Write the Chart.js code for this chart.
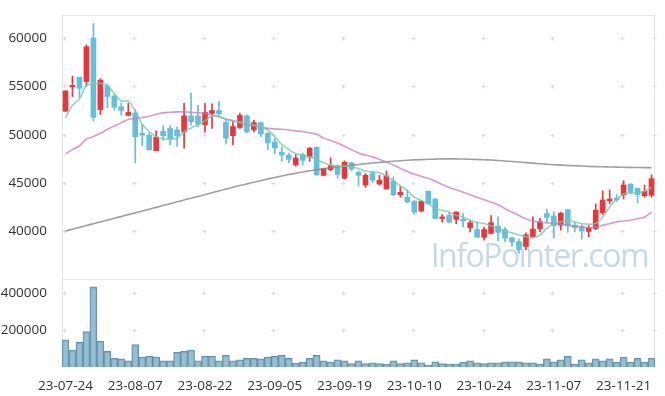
<!DOCTYPE html>
<html>
<head>
<meta charset="utf-8">
<script src="https://cdn.jsdelivr.net/npm/chart.js@4/dist/chart.umd.min.js"></script>
<style>
  html, body { margin: 0; padding: 0; background: #fff; }
  #wrap { width: 665px; height: 396px; position: relative; }
</style>
</head>
<body>
<div id="wrap"><canvas id="myChart"></canvas></div>
<script>
const dates = [
  '23-07-24','23-07-25','23-07-26','23-07-27','23-07-28','23-07-31',
  '23-08-01','23-08-02','23-08-03','23-08-04','23-08-07','23-08-08','23-08-09','23-08-10','23-08-11',
  '23-08-14','23-08-16','23-08-17','23-08-18','23-08-21','23-08-22','23-08-23','23-08-24','23-08-25',
  '23-08-28','23-08-29','23-08-30','23-08-31',
  '23-09-01','23-09-04','23-09-05','23-09-06','23-09-07','23-09-08','23-09-11','23-09-12','23-09-13',
  '23-09-14','23-09-15','23-09-18','23-09-19','23-09-20','23-09-21','23-09-22','23-09-25','23-09-26','23-09-27',
  '23-10-04','23-10-05','23-10-06','23-10-10','23-10-11','23-10-12','23-10-13','23-10-16','23-10-17',
  '23-10-18','23-10-19','23-10-20','23-10-23','23-10-24','23-10-25','23-10-26','23-10-27','23-10-30','23-10-31',
  '23-11-01','23-11-02','23-11-03','23-11-06','23-11-07','23-11-08','23-11-09','23-11-10','23-11-13',
  '23-11-14','23-11-15','23-11-16','23-11-17','23-11-20','23-11-21','23-11-22','23-11-23','23-11-24','23-11-27'
];

const open  = [52430,54950,55950,55500,60000,52600,55050,54000,52900,52000,
               52250,50150,49950,48350,50350,50650,50500,50300,51950,51950,
               51050,52200,52500,51300,49900,50750,51950,50500,51250,50150,
               49250,48200,47900,46900,47950,47700,48700,45800,46400,46750,
               45500,47100,46100,44800,46000,44900,44400,45200,43800,43550,
               43100,42100,44150,43350,41350,41650,41250,41250,40400,40200,
               39400,39800,40550,40200,39350,38950,38450,39450,40300,41850,
               41600,40650,42250,40650,40500,40000,40300,41950,43150,43450,
               43800,44900,44450,43700,43750];
const high  = [54550,56050,55950,59300,61500,55800,55250,54150,53300,53250,
               52600,51050,50200,50400,50950,50950,50800,53250,54300,53050,
               53250,53200,53450,51700,51350,52250,52050,51500,51300,50200,
               49650,48750,48100,47950,48100,48700,48750,46550,47600,46900,
               47300,47150,46250,46000,46250,45800,46250,45650,44650,44200,
               43200,43200,44200,43400,41750,41950,42050,41850,41150,41000,
               40450,41650,41500,40450,39400,39200,39850,41500,41350,42300,
               42000,42000,42300,40950,40700,40600,42850,44200,44300,43800,
               45250,44950,44500,44800,45850];
const low   = [52400,53950,53850,55000,51400,52100,52800,52550,52000,51950,
               47100,48850,48400,48350,49450,48950,48800,48600,51000,50800,
               50300,50650,52050,49050,48950,50650,50200,50300,49800,48450,
               48050,47250,47100,46750,46850,47250,45800,45750,46250,45500,
               45450,46250,44700,44550,45050,44800,44350,43700,43550,42950,
               41750,42050,42800,41300,40950,40900,40800,40500,39950,39350,
               39100,39750,39050,38950,38450,37750,38100,39400,39950,40990,
               39350,40150,39900,39950,39200,39450,40200,41750,42850,43100,
               43350,43850,42950,43550,43550];
const close = [54530,55100,54800,59100,51800,55650,53950,52850,52500,52300,
               49800,49950,48450,49750,49900,49600,49900,51950,51350,51100,
               52300,52500,52150,49650,50850,52000,50300,51250,50100,49150,
               48650,47900,47450,47600,47350,48600,45850,46500,46800,45900,
               47150,46450,45800,45800,45300,45300,45750,43800,44050,43050,
               42000,43100,42850,41350,41500,40950,42000,41100,40900,39400,
               40200,40900,39900,39300,38900,38100,39650,40250,41000,41450,
               40600,41900,40600,40400,40050,40400,42200,43250,43350,43250,
               44800,44050,43800,44150,45450];

const ma5  = [51750,53040,53720,55080,55250,55310,55080,54250,53480,53480,
              52450,51100,50320,49820,49580,49540,49640,50320,50700,51030,
              51440,51950,51900,51600,51400,51300,51170,51000,50830,50490,
              49800,49000,48460,48050,47850,47710,47440,47100,46860,46760,
              46760,46700,46490,46250,46150,46080,45740,45230,44720,44220,
              43540,43200,42860,42400,42180,42010,41670,41500,41160,40920,
              40820,40580,40310,40040,39870,39630,39460,39360,39630,40310,
              40820,40990,41160,40990,40820,40750,40820,41500,42520,43300,
              43870,43980,43980,44150,44550];
const ma20 = [48020,48460,48860,49540,49820,50150,50560,50900,51240,51580,
              51680,51780,51920,52120,52260,52320,52360,52360,52330,52260,
              52190,52020,51850,51600,51480,51240,51050,50900,50780,50660,
              50600,50560,50490,50400,50320,50200,50050,49650,49400,49140,
              48800,48450,48120,47900,47710,47440,47170,46850,46520,46200,
              45910,45700,45470,45200,44850,44550,44300,44050,43800,43540,
              43280,43030,42770,42350,42000,41650,41300,41060,40970,40890,
              40820,40750,40650,40550,40460,40380,40450,40650,40800,40990,
              41080,41160,41320,41500,42010];
const ma60 = [40040,40230,40420,40610,40800,40980,41170,41360,41550,41740,
              41920,42110,42300,42490,42680,42870,43060,43250,43440,43620,
              43810,44000,44190,44380,44560,44750,44920,45080,45250,45420,
              45580,45730,45880,46020,46150,46270,46380,46480,46580,46670,
              46760,46840,46920,47000,47070,47140,47200,47260,47310,47360,
              47400,47430,47460,47480,47500,47500,47500,47490,47470,47440,
              47410,47380,47330,47280,47230,47180,47120,47060,47000,46950,
              46900,46860,46820,46790,46760,46730,46700,46690,46670,46650,
              46630,46620,46610,46600,46590];

const volume = [147000,91000,133000,191000,433000,139000,84000,47000,44000,33000,
                121000,53000,58000,53000,33000,33000,79000,84000,91000,33000,
                58000,58000,33000,63000,33000,39000,47000,47000,44000,53000,
                58000,63000,47000,21000,26000,47000,63000,33000,26000,39000,
                33000,18000,33000,18000,23000,18000,16000,33000,18000,23000,
                39000,23000,11000,28000,18000,16000,16000,26000,33000,23000,
                18000,23000,23000,28000,28000,28000,23000,23000,16000,44000,
                28000,39000,58000,16000,39000,23000,44000,33000,44000,26000,
                53000,26000,47000,26000,47000];

const priceTicks = [40000, 45000, 50000, 55000, 60000];
const volumeTicks = [200000, 400000];

const UP = '#e8363b';
const DOWN = '#62c0da';
const candleColors = open.map((o, i) => close[i] >= o ? UP : DOWN);
const FONT = {family: "'Open Sans', sans-serif", size: 13.5};

const decor = {
  id: 'decor',
  beforeDatasetsDraw(chart) {
    const {ctx, chartArea: a, scales} = chart;
    const x = scales.x, y = scales.y, yv = scales.yv;
    ctx.save();
    // watermark
    ctx.font = "32px 'Open Sans', sans-serif";
    ctx.letterSpacing = '-1.5px';
    ctx.fillStyle = 'rgba(150,188,210,0.55)';
    ctx.textAlign = 'right';
    ctx.textBaseline = 'alphabetic';
    ctx.fillText('InfoPointer.com', a.right - 7, y.bottom - 12);
    ctx.letterSpacing = '0px';
    // panel frames
    ctx.strokeStyle = '#e6e6e6';
    ctx.lineWidth = 1;
    ctx.strokeRect(Math.round(a.left) + 0.5, Math.round(y.top) + 0.5, Math.round(a.right - a.left) - 1, Math.round(y.bottom - y.top));
    ctx.strokeRect(Math.round(a.left) + 0.5, Math.round(yv.top) + 0.5, Math.round(a.right - a.left) - 1, Math.round(yv.bottom - yv.top) - 1);
    // grid crosses
    const xs = [];
    for (let i = 0; i < dates.length; i += 10) xs.push(x.getPixelForValue(i) - 1.5);
    xs.push(a.right - 1);
    const ys = priceTicks.map(v => y.getPixelForValue(v)).concat(volumeTicks.map(v => yv.getPixelForValue(v)));
    ctx.strokeStyle = '#dcdcdc';
    ctx.beginPath();
    xs.forEach(px => ys.forEach(py => {
      const cx = Math.round(px) + 0.5, cy = Math.round(py) + 0.5;
      ctx.moveTo(cx - 2, cy); ctx.lineTo(cx + 2, cy);
      ctx.moveTo(cx, cy - 2); ctx.lineTo(cx, cy + 2);
    }));
    ctx.stroke();
    ctx.restore();
  }
};

const ctx = document.getElementById('myChart');
new Chart(ctx, {
  type: 'bar',
  data: {
    labels: dates,
    datasets: [
      {type: 'line', label: 'MA5', data: ma5, yAxisID: 'y', borderColor: 'rgba(120,200,178,0.8)', borderWidth: 1.6, pointRadius: 0, tension: 0.35, order: 0},
      {type: 'line', label: 'MA20', data: ma20, yAxisID: 'y', borderColor: 'rgba(200,120,190,0.75)', borderWidth: 1.6, pointRadius: 0, tension: 0.35, order: 0},
      {type: 'line', label: 'MA60', data: ma60, yAxisID: 'y', borderColor: 'rgba(135,135,135,0.8)', borderWidth: 1.6, pointRadius: 0, tension: 0.35, order: 0},
      {label: 'body', data: open.map((o, i) => [o, close[i]]), yAxisID: 'y', backgroundColor: candleColors,
       barThickness: 5, grouped: false, minBarLength: 1, order: 1},
      {label: 'wick', data: low.map((l, i) => [l, high[i]]), yAxisID: 'y', backgroundColor: candleColors,
       barThickness: 1, grouped: false, order: 2},
      {label: 'volume', data: volume, yAxisID: 'yv', backgroundColor: 'rgba(125,172,197,0.8)',
       borderColor: 'rgba(85,135,165,0.9)', borderWidth: 1, barPercentage: 1, categoryPercentage: 1, grouped: false, order: 3}
    ]
  },
  options: {
    responsive: true,
    maintainAspectRatio: false,
    animation: false,
    layout: {padding: {top: 10, right: 10, left: 0, bottom: 0}},
    plugins: {legend: {display: false}, tooltip: {enabled: false}},
    scales: {
      x: {
        type: 'category',
        offset: true,
        grid: {display: false},
        border: {display: false},
        ticks: {
          autoSkip: false, maxRotation: 0, minRotation: 0, padding: 3,
          color: '#333', font: FONT,
          callback: (v, i) => i % 10 === 0 ? dates[i] : ''
        },
        afterFit: s => { s.height = 29; }
      },
      yv: {
        type: 'linear',
        position: 'left',
        stack: 'panels',
        stackWeight: 1,
        min: 0,
        max: 475000,
        grid: {display: false},
        border: {display: false},
        ticks: {color: '#333', font: FONT, padding: 7, callback: v => String(v)},
        afterBuildTicks: s => { s.ticks = volumeTicks.map(v => ({value: v})); },
        afterFit: s => { s.width = 62; }
      },
      y: {
        type: 'linear',
        position: 'left',
        stack: 'panels',
        stackWeight: 3,
        min: 35080,
        max: 62370,
        grid: {display: false},
        border: {display: false},
        ticks: {color: '#333', font: FONT, padding: 7, callback: v => String(v)},
        afterBuildTicks: s => { s.ticks = priceTicks.map(v => ({value: v})); },
        afterFit: s => { s.width = 62; }
      }
    }
  },
  plugins: [decor]
});
</script>
</body>
</html>
